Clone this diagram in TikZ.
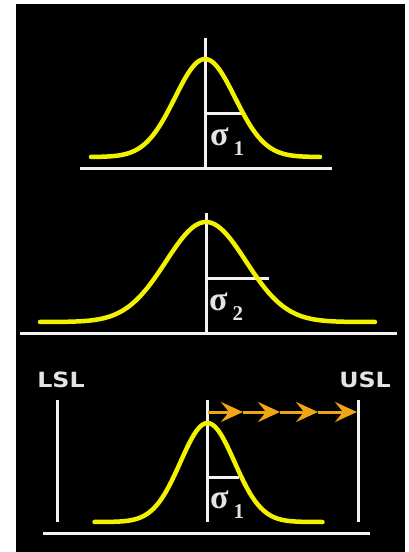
\documentclass[tikz,border=0pt]{standalone}
\usepackage{fontspec}
\setmainfont{Liberation Serif}
\newfontfamily\labelfont{DejaVu Sans}
\usetikzlibrary{arrows.meta,positioning}
\definecolor{spcyellow}{HTML}{F2F200}
\definecolor{spcorange}{HTML}{EFA515}
\definecolor{spcwhite}{HTML}{F2F2F2}
\definecolor{spcgrey}{HTML}{E4E4E4}
\tikzstyle{axisline}=[draw=spcwhite,line width=3pt]
\tikzstyle{bellcurve}=[draw=spcyellow,line width=4.5pt,line cap=round]
\tikzstyle{sigmalabel}=[text=spcgrey,inner sep=0pt,anchor=base west]
\tikzstyle{speclabel}=[text=spcgrey,font=\labelfont\bfseries\fontsize{21}{21}\selectfont,inner sep=0pt,anchor=base]
\tikzstyle{shiftarrow}=[draw=spcorange,line width=3pt,-{Stealth[length=22pt,width=20pt,inset=8pt]}]
\newcommand{\sigmatext}[1]{{\bfseries\fontsize{34}{34}\selectfont σ}\hspace{5pt}\raisebox{-10pt}{\bfseries\fontsize{21}{21}\selectfont #1}}

\begin{document}
\begin{tikzpicture}[x=1pt,y=-1pt]
    \useasboundingbox (0,0) rectangle (408,552);
    \fill[white] (0,0) rectangle (408,552);
    \fill[black] (15.5,4) rectangle (405,552);

    \coordinate (topA) at (205,38);
    \coordinate (footA) at (205,168);
    \coordinate (baseAl) at (80,168);
    \coordinate (baseAr) at (332,168);
    \coordinate (sigA) at (205,113);
    \coordinate (sigAend) at (243,113);
    \draw[axisline] (baseAl) -- (baseAr);
    \draw[axisline] (topA) -- (footA);
    \draw[axisline] (sigA) -- (sigAend);
    \draw[bellcurve] plot[smooth,domain=-114:115,samples=90] ({205+\x},{157-98*exp(-(\x/30)^2/2)});
    \node[sigmalabel] (sigmaA) at (210,145) {\sigmatext{1}};

    \coordinate (topB) at (206,213);
    \coordinate (footB) at (206,333);
    \coordinate (baseBl) at (20,333);
    \coordinate (baseBr) at (397,333);
    \coordinate (sigB) at (206,278);
    \coordinate (sigBend) at (269,278);
    \draw[axisline] (baseBl) -- (baseBr);
    \draw[axisline] (topB) -- (footB);
    \draw[axisline] (sigB) -- (sigBend);
    \draw[bellcurve] plot[smooth,domain=-166:169,samples=110] ({206+\x},{322-100*exp(-(\x/40)^2/2)});
    \node[sigmalabel] (sigmaB) at (209,310) {\sigmatext{2}};

    \node[speclabel] (lsl) at (61,387) {\scalebox{1.13}[1]{LSL}};
    \node[speclabel] (usl) at (365,387) {\scalebox{1.13}[1]{USL}};
    \coordinate (lslTop) at (57,400);
    \coordinate (lslFoot) at (57,522);
    \coordinate (uslTop) at (358,400);
    \coordinate (uslFoot) at (358,522);
    \coordinate (topC) at (207.5,400);
    \coordinate (footC) at (207.5,522);
    \coordinate (baseCl) at (43,533);
    \coordinate (baseCr) at (370,533);
    \coordinate (sigC) at (207.5,477);
    \coordinate (sigCend) at (239,477);
    \draw[axisline] (baseCl) -- (baseCr);
    \draw[axisline] (lslTop) -- (lslFoot);
    \draw[axisline] (uslTop) -- (uslFoot);
    \draw[axisline] (topC) -- (footC);
    \draw[axisline] (sigC) -- (sigCend);
    \draw[bellcurve] plot[smooth,domain=-113:115,samples=90] ({207.5+\x},{522-99*exp(-(\x/27)^2/2)});
    \node[sigmalabel] (sigmaC) at (210,508) {\sigmatext{1}};

    \coordinate (shift0) at (208,412);
    \coordinate (shift1) at (243,412);
    \coordinate (shift2) at (280,412);
    \coordinate (shift3) at (318,412);
    \coordinate (shift4) at (357,412);
    \draw[shiftarrow] (shift0) -- (shift1);
    \draw[shiftarrow] (shift1) -- (shift2);
    \draw[shiftarrow] (shift2) -- (shift3);
    \draw[shiftarrow] (shift3) -- (shift4);
\end{tikzpicture}
\end{document}
